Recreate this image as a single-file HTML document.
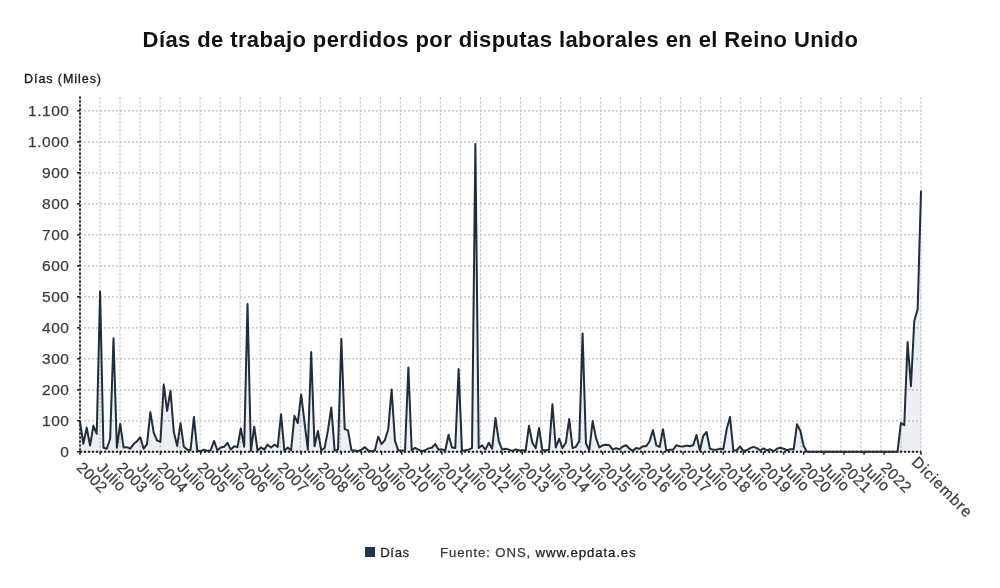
<!DOCTYPE html>
<html><head><meta charset="utf-8">
<style>
html,body{margin:0;padding:0;background:#fff;}
body{width:1000px;height:588px;overflow:hidden;position:relative;font-family:"Liberation Sans",sans-serif;}
svg{position:absolute;left:0;top:0;will-change:transform;}
.g{stroke:#bdbdbd;stroke-width:1.15;stroke-dasharray:2 2;}
.ax{stroke:#1e1e1e;stroke-width:1.9;stroke-dasharray:2 2;}
.tk{stroke:#222;stroke-width:1.5;}
.yl{font-size:15.5px;fill:#3d3d3d;stroke:#3d3d3d;stroke-width:0.25px;text-anchor:end;letter-spacing:0.5px;}
.xl{font-size:15.5px;fill:#3d3d3d;stroke:#3d3d3d;stroke-width:0.25px;}
.title{font-size:22px;font-weight:bold;fill:#111;}
</style></head><body>
<svg width="1000" height="588" viewBox="0 0 1000 588">
<rect width="1000" height="588" fill="#fff"/>
<text x="142.6" y="46.9" class="title" textLength="715.3" lengthAdjust="spacing">Días de trabajo perdidos por disputas laborales en el Reino Unido</text>
<text x="24" y="82.8" textLength="77" lengthAdjust="spacing" style="font-size:12.5px;fill:#1a1a1a;stroke:#1a1a1a;stroke-width:0.35px">Días (Miles)</text>
<line x1="80" y1="420.8" x2="921" y2="420.8" class="g"/>
<line x1="80" y1="389.8" x2="921" y2="389.8" class="g"/>
<line x1="80" y1="358.8" x2="921" y2="358.8" class="g"/>
<line x1="80" y1="327.8" x2="921" y2="327.8" class="g"/>
<line x1="80" y1="296.8" x2="921" y2="296.8" class="g"/>
<line x1="80" y1="265.8" x2="921" y2="265.8" class="g"/>
<line x1="80" y1="234.8" x2="921" y2="234.8" class="g"/>
<line x1="80" y1="203.8" x2="921" y2="203.8" class="g"/>
<line x1="80" y1="172.8" x2="921" y2="172.8" class="g"/>
<line x1="80" y1="141.8" x2="921" y2="141.8" class="g"/>
<line x1="80" y1="110.8" x2="921" y2="110.8" class="g"/>
<line x1="100.0" y1="97.4" x2="100.0" y2="451.8" class="g"/>
<line x1="120.0" y1="97.4" x2="120.0" y2="451.8" class="g"/>
<line x1="140.1" y1="97.4" x2="140.1" y2="451.8" class="g"/>
<line x1="160.1" y1="97.4" x2="160.1" y2="451.8" class="g"/>
<line x1="180.1" y1="97.4" x2="180.1" y2="451.8" class="g"/>
<line x1="200.1" y1="97.4" x2="200.1" y2="451.8" class="g"/>
<line x1="220.2" y1="97.4" x2="220.2" y2="451.8" class="g"/>
<line x1="240.2" y1="97.4" x2="240.2" y2="451.8" class="g"/>
<line x1="260.2" y1="97.4" x2="260.2" y2="451.8" class="g"/>
<line x1="280.2" y1="97.4" x2="280.2" y2="451.8" class="g"/>
<line x1="300.3" y1="97.4" x2="300.3" y2="451.8" class="g"/>
<line x1="320.3" y1="97.4" x2="320.3" y2="451.8" class="g"/>
<line x1="340.3" y1="97.4" x2="340.3" y2="451.8" class="g"/>
<line x1="360.3" y1="97.4" x2="360.3" y2="451.8" class="g"/>
<line x1="380.4" y1="97.4" x2="380.4" y2="451.8" class="g"/>
<line x1="400.4" y1="97.4" x2="400.4" y2="451.8" class="g"/>
<line x1="420.4" y1="97.4" x2="420.4" y2="451.8" class="g"/>
<line x1="440.4" y1="97.4" x2="440.4" y2="451.8" class="g"/>
<line x1="460.5" y1="97.4" x2="460.5" y2="451.8" class="g"/>
<line x1="480.5" y1="97.4" x2="480.5" y2="451.8" class="g"/>
<line x1="500.5" y1="97.4" x2="500.5" y2="451.8" class="g"/>
<line x1="520.5" y1="97.4" x2="520.5" y2="451.8" class="g"/>
<line x1="540.5" y1="97.4" x2="540.5" y2="451.8" class="g"/>
<line x1="560.6" y1="97.4" x2="560.6" y2="451.8" class="g"/>
<line x1="580.6" y1="97.4" x2="580.6" y2="451.8" class="g"/>
<line x1="600.6" y1="97.4" x2="600.6" y2="451.8" class="g"/>
<line x1="620.6" y1="97.4" x2="620.6" y2="451.8" class="g"/>
<line x1="640.7" y1="97.4" x2="640.7" y2="451.8" class="g"/>
<line x1="660.7" y1="97.4" x2="660.7" y2="451.8" class="g"/>
<line x1="680.7" y1="97.4" x2="680.7" y2="451.8" class="g"/>
<line x1="700.7" y1="97.4" x2="700.7" y2="451.8" class="g"/>
<line x1="720.8" y1="97.4" x2="720.8" y2="451.8" class="g"/>
<line x1="740.8" y1="97.4" x2="740.8" y2="451.8" class="g"/>
<line x1="760.8" y1="97.4" x2="760.8" y2="451.8" class="g"/>
<line x1="780.8" y1="97.4" x2="780.8" y2="451.8" class="g"/>
<line x1="800.9" y1="97.4" x2="800.9" y2="451.8" class="g"/>
<line x1="820.9" y1="97.4" x2="820.9" y2="451.8" class="g"/>
<line x1="840.9" y1="97.4" x2="840.9" y2="451.8" class="g"/>
<line x1="860.9" y1="97.4" x2="860.9" y2="451.8" class="g"/>
<line x1="881.0" y1="97.4" x2="881.0" y2="451.8" class="g"/>
<line x1="901.0" y1="97.4" x2="901.0" y2="451.8" class="g"/>
<line x1="921.0" y1="97.4" x2="921.0" y2="451.8" class="g"/>
<path d="M80.00,421.73 L83.35,443.74 L86.70,427.62 L90.05,445.60 L93.40,425.76 L96.75,433.82 L100.10,291.53 L103.45,447.77 L106.80,448.70 L110.16,438.78 L113.51,338.34 L116.86,447.77 L120.21,423.90 L123.56,447.46 L126.91,447.15 L130.26,448.70 L133.61,444.05 L136.96,441.26 L140.31,437.23 L143.66,448.70 L147.01,444.05 L150.36,412.12 L153.71,432.58 L157.06,440.64 L160.41,441.88 L163.76,384.53 L167.12,410.88 L170.47,390.73 L173.82,431.96 L177.17,445.91 L180.52,423.28 L183.87,446.84 L187.22,449.63 L190.57,449.94 L193.92,417.08 L197.27,450.56 L200.62,451.18 L203.97,449.63 L207.32,450.87 L210.67,450.25 L214.02,440.95 L217.37,450.25 L220.73,447.46 L224.08,446.84 L227.43,442.81 L230.78,449.63 L234.13,446.22 L237.48,447.15 L240.83,428.55 L244.18,446.84 L247.53,303.93 L250.88,450.87 L254.23,426.69 L257.58,450.56 L260.93,447.46 L264.28,449.63 L267.63,444.67 L270.98,447.46 L274.33,444.67 L277.69,446.84 L281.04,414.29 L284.39,450.87 L287.74,447.46 L291.09,450.25 L294.44,415.84 L297.79,422.97 L301.14,394.45 L304.49,422.35 L307.84,449.63 L311.19,351.98 L314.54,446.22 L317.89,431.03 L321.24,450.25 L324.59,448.08 L327.94,430.41 L331.29,407.47 L334.65,450.56 L338.00,449.63 L341.35,338.96 L344.70,429.17 L348.05,430.41 L351.40,450.25 L354.75,450.56 L358.10,451.18 L361.45,449.63 L364.80,447.15 L368.15,450.56 L371.50,451.18 L374.85,450.56 L378.20,436.61 L381.55,444.05 L384.90,440.02 L388.25,429.17 L391.61,389.49 L394.96,440.64 L398.31,450.56 L401.66,450.56 L405.01,450.87 L408.36,367.48 L411.71,450.56 L415.06,447.77 L418.41,449.63 L421.76,451.18 L425.11,450.25 L428.46,448.39 L431.81,447.77 L435.16,444.05 L438.51,449.63 L441.86,449.32 L445.22,450.56 L448.57,434.75 L451.92,447.46 L455.27,448.08 L458.62,369.03 L461.97,450.56 L465.32,450.25 L468.67,449.63 L472.02,448.08 L475.37,143.97 L478.72,448.08 L482.07,445.29 L485.42,449.63 L488.77,442.81 L492.12,448.70 L495.47,418.01 L498.82,441.26 L502.18,449.63 L505.53,448.70 L508.88,449.63 L512.23,450.87 L515.58,449.32 L518.93,450.56 L522.28,450.25 L525.63,450.56 L528.98,425.76 L532.33,442.81 L535.68,448.08 L539.03,427.93 L542.38,450.25 L545.73,450.25 L549.08,449.63 L552.43,404.37 L555.78,447.46 L559.14,438.78 L562.49,448.08 L565.84,442.81 L569.19,418.94 L572.54,448.08 L575.89,446.84 L579.24,440.95 L582.59,333.38 L585.94,443.43 L589.29,450.25 L592.64,421.11 L595.99,437.85 L599.34,447.46 L602.69,445.29 L606.04,444.67 L609.39,445.29 L612.75,449.63 L616.10,448.08 L619.45,449.32 L622.80,446.53 L626.15,445.29 L629.50,448.70 L632.85,450.87 L636.20,448.08 L639.55,448.70 L642.90,446.22 L646.25,446.22 L649.60,441.26 L652.95,430.10 L656.30,445.29 L659.65,446.84 L663.00,429.17 L666.35,450.56 L669.71,449.63 L673.06,449.63 L676.41,445.29 L679.76,446.22 L683.11,446.53 L686.46,445.60 L689.81,446.22 L693.16,445.29 L696.51,435.06 L699.86,450.56 L703.21,435.99 L706.56,431.96 L709.91,448.70 L713.26,449.63 L716.61,449.63 L719.96,448.70 L723.31,449.32 L726.67,429.17 L730.02,417.08 L733.37,450.56 L736.72,450.25 L740.07,446.53 L743.42,450.87 L746.77,450.25 L750.12,448.08 L753.47,446.84 L756.82,448.08 L760.17,450.25 L763.52,448.39 L766.87,450.25 L770.22,449.32 L773.57,451.18 L776.92,448.70 L780.27,447.77 L783.63,448.70 L786.98,450.25 L790.33,449.32 L793.68,449.32 L797.03,424.21 L800.38,431.03 L803.73,446.22 L807.08,451.80 L810.43,451.80 L813.78,451.80 L817.13,451.80 L820.48,451.80 L823.83,451.80 L827.18,451.80 L830.53,451.80 L833.88,451.80 L837.24,451.80 L840.59,451.80 L843.94,451.80 L847.29,451.80 L850.64,451.80 L853.99,451.80 L857.34,451.80 L860.69,451.80 L864.04,451.80 L867.39,451.80 L870.74,451.80 L874.09,451.80 L877.44,451.80 L880.79,451.80 L884.14,451.80 L887.49,451.80 L890.84,451.80 L894.20,451.80 L897.55,451.80 L900.90,422.97 L904.25,425.14 L907.60,342.06 L910.95,386.08 L914.30,320.67 L917.65,309.51 L921.00,191.40 L921.00,451.80 L80.00,451.80 Z" fill="#24345a" fill-opacity="0.08" stroke="none"/>
<line x1="80" y1="96.4" x2="80" y2="451.8" stroke="#bbb" stroke-width="1.2"/>
<line x1="80" y1="451.8" x2="921" y2="451.8" stroke="#bbb" stroke-width="1.2"/>
<line x1="80" y1="96.4" x2="80" y2="451.8" class="ax"/>
<line x1="80" y1="451.8" x2="921" y2="451.8" class="ax"/>
<text x="69.4" y="457.3" class="yl">0</text>
<line x1="77" y1="451.8" x2="80" y2="451.8" class="tk"/>
<text x="69.4" y="426.3" class="yl">100</text>
<line x1="77" y1="420.8" x2="80" y2="420.8" class="tk"/>
<text x="69.4" y="395.3" class="yl">200</text>
<line x1="77" y1="389.8" x2="80" y2="389.8" class="tk"/>
<text x="69.4" y="364.3" class="yl">300</text>
<line x1="77" y1="358.8" x2="80" y2="358.8" class="tk"/>
<text x="69.4" y="333.3" class="yl">400</text>
<line x1="77" y1="327.8" x2="80" y2="327.8" class="tk"/>
<text x="69.4" y="302.3" class="yl">500</text>
<line x1="77" y1="296.8" x2="80" y2="296.8" class="tk"/>
<text x="69.4" y="271.3" class="yl">600</text>
<line x1="77" y1="265.8" x2="80" y2="265.8" class="tk"/>
<text x="69.4" y="240.3" class="yl">700</text>
<line x1="77" y1="234.8" x2="80" y2="234.8" class="tk"/>
<text x="69.4" y="209.3" class="yl">800</text>
<line x1="77" y1="203.8" x2="80" y2="203.8" class="tk"/>
<text x="69.4" y="178.3" class="yl">900</text>
<line x1="77" y1="172.8" x2="80" y2="172.8" class="tk"/>
<text x="69.4" y="147.3" class="yl">1.000</text>
<line x1="77" y1="141.8" x2="80" y2="141.8" class="tk"/>
<text x="69.4" y="116.3" class="yl">1.100</text>
<line x1="77" y1="110.8" x2="80" y2="110.8" class="tk"/>
<line x1="80.0" y1="451.8" x2="80.0" y2="454.8" class="tk"/>
<text transform="translate(75.8,468.4) rotate(45)" class="xl" textLength="35.5" lengthAdjust="spacing">2002</text>
<line x1="100.1" y1="451.8" x2="100.1" y2="454.8" class="tk"/>
<text transform="translate(95.9,468.4) rotate(45)" class="xl" textLength="33.5" lengthAdjust="spacing">Julio</text>
<line x1="120.2" y1="451.8" x2="120.2" y2="454.8" class="tk"/>
<text transform="translate(116.0,468.4) rotate(45)" class="xl" textLength="35.5" lengthAdjust="spacing">2003</text>
<line x1="140.3" y1="451.8" x2="140.3" y2="454.8" class="tk"/>
<text transform="translate(136.1,468.4) rotate(45)" class="xl" textLength="33.5" lengthAdjust="spacing">Julio</text>
<line x1="160.4" y1="451.8" x2="160.4" y2="454.8" class="tk"/>
<text transform="translate(156.2,468.4) rotate(45)" class="xl" textLength="35.5" lengthAdjust="spacing">2004</text>
<line x1="180.5" y1="451.8" x2="180.5" y2="454.8" class="tk"/>
<text transform="translate(176.3,468.4) rotate(45)" class="xl" textLength="33.5" lengthAdjust="spacing">Julio</text>
<line x1="200.6" y1="451.8" x2="200.6" y2="454.8" class="tk"/>
<text transform="translate(196.4,468.4) rotate(45)" class="xl" textLength="35.5" lengthAdjust="spacing">2005</text>
<line x1="220.7" y1="451.8" x2="220.7" y2="454.8" class="tk"/>
<text transform="translate(216.5,468.4) rotate(45)" class="xl" textLength="33.5" lengthAdjust="spacing">Julio</text>
<line x1="240.8" y1="451.8" x2="240.8" y2="454.8" class="tk"/>
<text transform="translate(236.6,468.4) rotate(45)" class="xl" textLength="35.5" lengthAdjust="spacing">2006</text>
<line x1="260.9" y1="451.8" x2="260.9" y2="454.8" class="tk"/>
<text transform="translate(256.7,468.4) rotate(45)" class="xl" textLength="33.5" lengthAdjust="spacing">Julio</text>
<line x1="281.0" y1="451.8" x2="281.0" y2="454.8" class="tk"/>
<text transform="translate(276.8,468.4) rotate(45)" class="xl" textLength="35.5" lengthAdjust="spacing">2007</text>
<line x1="301.1" y1="451.8" x2="301.1" y2="454.8" class="tk"/>
<text transform="translate(296.9,468.4) rotate(45)" class="xl" textLength="33.5" lengthAdjust="spacing">Julio</text>
<line x1="321.2" y1="451.8" x2="321.2" y2="454.8" class="tk"/>
<text transform="translate(317.0,468.4) rotate(45)" class="xl" textLength="35.5" lengthAdjust="spacing">2008</text>
<line x1="341.3" y1="451.8" x2="341.3" y2="454.8" class="tk"/>
<text transform="translate(337.1,468.4) rotate(45)" class="xl" textLength="33.5" lengthAdjust="spacing">Julio</text>
<line x1="361.5" y1="451.8" x2="361.5" y2="454.8" class="tk"/>
<text transform="translate(357.3,468.4) rotate(45)" class="xl" textLength="35.5" lengthAdjust="spacing">2009</text>
<line x1="381.6" y1="451.8" x2="381.6" y2="454.8" class="tk"/>
<text transform="translate(377.4,468.4) rotate(45)" class="xl" textLength="33.5" lengthAdjust="spacing">Julio</text>
<line x1="401.7" y1="451.8" x2="401.7" y2="454.8" class="tk"/>
<text transform="translate(397.5,468.4) rotate(45)" class="xl" textLength="35.5" lengthAdjust="spacing">2010</text>
<line x1="421.8" y1="451.8" x2="421.8" y2="454.8" class="tk"/>
<text transform="translate(417.6,468.4) rotate(45)" class="xl" textLength="33.5" lengthAdjust="spacing">Julio</text>
<line x1="441.9" y1="451.8" x2="441.9" y2="454.8" class="tk"/>
<text transform="translate(437.7,468.4) rotate(45)" class="xl" textLength="35.5" lengthAdjust="spacing">2011</text>
<line x1="462.0" y1="451.8" x2="462.0" y2="454.8" class="tk"/>
<text transform="translate(457.8,468.4) rotate(45)" class="xl" textLength="33.5" lengthAdjust="spacing">Julio</text>
<line x1="482.1" y1="451.8" x2="482.1" y2="454.8" class="tk"/>
<text transform="translate(477.9,468.4) rotate(45)" class="xl" textLength="35.5" lengthAdjust="spacing">2012</text>
<line x1="502.2" y1="451.8" x2="502.2" y2="454.8" class="tk"/>
<text transform="translate(498.0,468.4) rotate(45)" class="xl" textLength="33.5" lengthAdjust="spacing">Julio</text>
<line x1="522.3" y1="451.8" x2="522.3" y2="454.8" class="tk"/>
<text transform="translate(518.1,468.4) rotate(45)" class="xl" textLength="35.5" lengthAdjust="spacing">2013</text>
<line x1="542.4" y1="451.8" x2="542.4" y2="454.8" class="tk"/>
<text transform="translate(538.2,468.4) rotate(45)" class="xl" textLength="33.5" lengthAdjust="spacing">Julio</text>
<line x1="562.5" y1="451.8" x2="562.5" y2="454.8" class="tk"/>
<text transform="translate(558.3,468.4) rotate(45)" class="xl" textLength="35.5" lengthAdjust="spacing">2014</text>
<line x1="582.6" y1="451.8" x2="582.6" y2="454.8" class="tk"/>
<text transform="translate(578.4,468.4) rotate(45)" class="xl" textLength="33.5" lengthAdjust="spacing">Julio</text>
<line x1="602.7" y1="451.8" x2="602.7" y2="454.8" class="tk"/>
<text transform="translate(598.5,468.4) rotate(45)" class="xl" textLength="35.5" lengthAdjust="spacing">2015</text>
<line x1="622.8" y1="451.8" x2="622.8" y2="454.8" class="tk"/>
<text transform="translate(618.6,468.4) rotate(45)" class="xl" textLength="33.5" lengthAdjust="spacing">Julio</text>
<line x1="642.9" y1="451.8" x2="642.9" y2="454.8" class="tk"/>
<text transform="translate(638.7,468.4) rotate(45)" class="xl" textLength="35.5" lengthAdjust="spacing">2016</text>
<line x1="663.0" y1="451.8" x2="663.0" y2="454.8" class="tk"/>
<text transform="translate(658.8,468.4) rotate(45)" class="xl" textLength="33.5" lengthAdjust="spacing">Julio</text>
<line x1="683.1" y1="451.8" x2="683.1" y2="454.8" class="tk"/>
<text transform="translate(678.9,468.4) rotate(45)" class="xl" textLength="35.5" lengthAdjust="spacing">2017</text>
<line x1="703.2" y1="451.8" x2="703.2" y2="454.8" class="tk"/>
<text transform="translate(699.0,468.4) rotate(45)" class="xl" textLength="33.5" lengthAdjust="spacing">Julio</text>
<line x1="723.3" y1="451.8" x2="723.3" y2="454.8" class="tk"/>
<text transform="translate(719.1,468.4) rotate(45)" class="xl" textLength="35.5" lengthAdjust="spacing">2018</text>
<line x1="743.4" y1="451.8" x2="743.4" y2="454.8" class="tk"/>
<text transform="translate(739.2,468.4) rotate(45)" class="xl" textLength="33.5" lengthAdjust="spacing">Julio</text>
<line x1="763.5" y1="451.8" x2="763.5" y2="454.8" class="tk"/>
<text transform="translate(759.3,468.4) rotate(45)" class="xl" textLength="35.5" lengthAdjust="spacing">2019</text>
<line x1="783.6" y1="451.8" x2="783.6" y2="454.8" class="tk"/>
<text transform="translate(779.4,468.4) rotate(45)" class="xl" textLength="33.5" lengthAdjust="spacing">Julio</text>
<line x1="803.7" y1="451.8" x2="803.7" y2="454.8" class="tk"/>
<text transform="translate(799.5,468.4) rotate(45)" class="xl" textLength="35.5" lengthAdjust="spacing">2020</text>
<line x1="823.8" y1="451.8" x2="823.8" y2="454.8" class="tk"/>
<text transform="translate(819.6,468.4) rotate(45)" class="xl" textLength="33.5" lengthAdjust="spacing">Julio</text>
<line x1="843.9" y1="451.8" x2="843.9" y2="454.8" class="tk"/>
<text transform="translate(839.7,468.4) rotate(45)" class="xl" textLength="35.5" lengthAdjust="spacing">2021</text>
<line x1="864.0" y1="451.8" x2="864.0" y2="454.8" class="tk"/>
<text transform="translate(859.8,468.4) rotate(45)" class="xl" textLength="33.5" lengthAdjust="spacing">Julio</text>
<line x1="884.1" y1="451.8" x2="884.1" y2="454.8" class="tk"/>
<text transform="translate(879.9,468.4) rotate(45)" class="xl" textLength="35.5" lengthAdjust="spacing">2022</text>
<line x1="921.0" y1="451.8" x2="921.0" y2="454.8" class="tk"/>
<text transform="translate(910.8,462.9) rotate(45)" class="xl" textLength="78" lengthAdjust="spacing">Diciembre</text>
<path d="M80.00,421.73 L83.35,443.74 L86.70,427.62 L90.05,445.60 L93.40,425.76 L96.75,433.82 L100.10,291.53 L103.45,447.77 L106.80,448.70 L110.16,438.78 L113.51,338.34 L116.86,447.77 L120.21,423.90 L123.56,447.46 L126.91,447.15 L130.26,448.70 L133.61,444.05 L136.96,441.26 L140.31,437.23 L143.66,448.70 L147.01,444.05 L150.36,412.12 L153.71,432.58 L157.06,440.64 L160.41,441.88 L163.76,384.53 L167.12,410.88 L170.47,390.73 L173.82,431.96 L177.17,445.91 L180.52,423.28 L183.87,446.84 L187.22,449.63 L190.57,449.94 L193.92,417.08 L197.27,450.56 L200.62,451.18 L203.97,449.63 L207.32,450.87 L210.67,450.25 L214.02,440.95 L217.37,450.25 L220.73,447.46 L224.08,446.84 L227.43,442.81 L230.78,449.63 L234.13,446.22 L237.48,447.15 L240.83,428.55 L244.18,446.84 L247.53,303.93 L250.88,450.87 L254.23,426.69 L257.58,450.56 L260.93,447.46 L264.28,449.63 L267.63,444.67 L270.98,447.46 L274.33,444.67 L277.69,446.84 L281.04,414.29 L284.39,450.87 L287.74,447.46 L291.09,450.25 L294.44,415.84 L297.79,422.97 L301.14,394.45 L304.49,422.35 L307.84,449.63 L311.19,351.98 L314.54,446.22 L317.89,431.03 L321.24,450.25 L324.59,448.08 L327.94,430.41 L331.29,407.47 L334.65,450.56 L338.00,449.63 L341.35,338.96 L344.70,429.17 L348.05,430.41 L351.40,450.25 L354.75,450.56 L358.10,451.18 L361.45,449.63 L364.80,447.15 L368.15,450.56 L371.50,451.18 L374.85,450.56 L378.20,436.61 L381.55,444.05 L384.90,440.02 L388.25,429.17 L391.61,389.49 L394.96,440.64 L398.31,450.56 L401.66,450.56 L405.01,450.87 L408.36,367.48 L411.71,450.56 L415.06,447.77 L418.41,449.63 L421.76,451.18 L425.11,450.25 L428.46,448.39 L431.81,447.77 L435.16,444.05 L438.51,449.63 L441.86,449.32 L445.22,450.56 L448.57,434.75 L451.92,447.46 L455.27,448.08 L458.62,369.03 L461.97,450.56 L465.32,450.25 L468.67,449.63 L472.02,448.08 L475.37,143.97 L478.72,448.08 L482.07,445.29 L485.42,449.63 L488.77,442.81 L492.12,448.70 L495.47,418.01 L498.82,441.26 L502.18,449.63 L505.53,448.70 L508.88,449.63 L512.23,450.87 L515.58,449.32 L518.93,450.56 L522.28,450.25 L525.63,450.56 L528.98,425.76 L532.33,442.81 L535.68,448.08 L539.03,427.93 L542.38,450.25 L545.73,450.25 L549.08,449.63 L552.43,404.37 L555.78,447.46 L559.14,438.78 L562.49,448.08 L565.84,442.81 L569.19,418.94 L572.54,448.08 L575.89,446.84 L579.24,440.95 L582.59,333.38 L585.94,443.43 L589.29,450.25 L592.64,421.11 L595.99,437.85 L599.34,447.46 L602.69,445.29 L606.04,444.67 L609.39,445.29 L612.75,449.63 L616.10,448.08 L619.45,449.32 L622.80,446.53 L626.15,445.29 L629.50,448.70 L632.85,450.87 L636.20,448.08 L639.55,448.70 L642.90,446.22 L646.25,446.22 L649.60,441.26 L652.95,430.10 L656.30,445.29 L659.65,446.84 L663.00,429.17 L666.35,450.56 L669.71,449.63 L673.06,449.63 L676.41,445.29 L679.76,446.22 L683.11,446.53 L686.46,445.60 L689.81,446.22 L693.16,445.29 L696.51,435.06 L699.86,450.56 L703.21,435.99 L706.56,431.96 L709.91,448.70 L713.26,449.63 L716.61,449.63 L719.96,448.70 L723.31,449.32 L726.67,429.17 L730.02,417.08 L733.37,450.56 L736.72,450.25 L740.07,446.53 L743.42,450.87 L746.77,450.25 L750.12,448.08 L753.47,446.84 L756.82,448.08 L760.17,450.25 L763.52,448.39 L766.87,450.25 L770.22,449.32 L773.57,451.18 L776.92,448.70 L780.27,447.77 L783.63,448.70 L786.98,450.25 L790.33,449.32 L793.68,449.32 L797.03,424.21 L800.38,431.03 L803.73,446.22 L807.08,451.80 L810.43,451.80 L813.78,451.80 L817.13,451.80 L820.48,451.80 L823.83,451.80 L827.18,451.80 L830.53,451.80 L833.88,451.80 L837.24,451.80 L840.59,451.80 L843.94,451.80 L847.29,451.80 L850.64,451.80 L853.99,451.80 L857.34,451.80 L860.69,451.80 L864.04,451.80 L867.39,451.80 L870.74,451.80 L874.09,451.80 L877.44,451.80 L880.79,451.80 L884.14,451.80 L887.49,451.80 L890.84,451.80 L894.20,451.80 L897.55,451.80 L900.90,422.97 L904.25,425.14 L907.60,342.06 L910.95,386.08 L914.30,320.67 L917.65,309.51 L921.00,191.40" fill="none" stroke="#1f2d3d" stroke-width="2" stroke-linejoin="round" stroke-linecap="round"/>
<rect x="365" y="547" width="10" height="10" fill="#243447"/>
<text x="380.2" y="556.6" textLength="29" lengthAdjust="spacing" style="font-size:13.2px;fill:#2a2a2a;stroke:#2a2a2a;stroke-width:0.3px">Días</text>
<text x="440" y="556.6" textLength="195.5" lengthAdjust="spacing" style="font-size:13.2px;fill:#3a3a3a;stroke:#3a3a3a;stroke-width:0.25px">Fuente: ONS, <tspan style="fill:#1a1a1a;stroke:#1a1a1a">www.epdata.es</tspan></text>
</svg>
</body></html>
